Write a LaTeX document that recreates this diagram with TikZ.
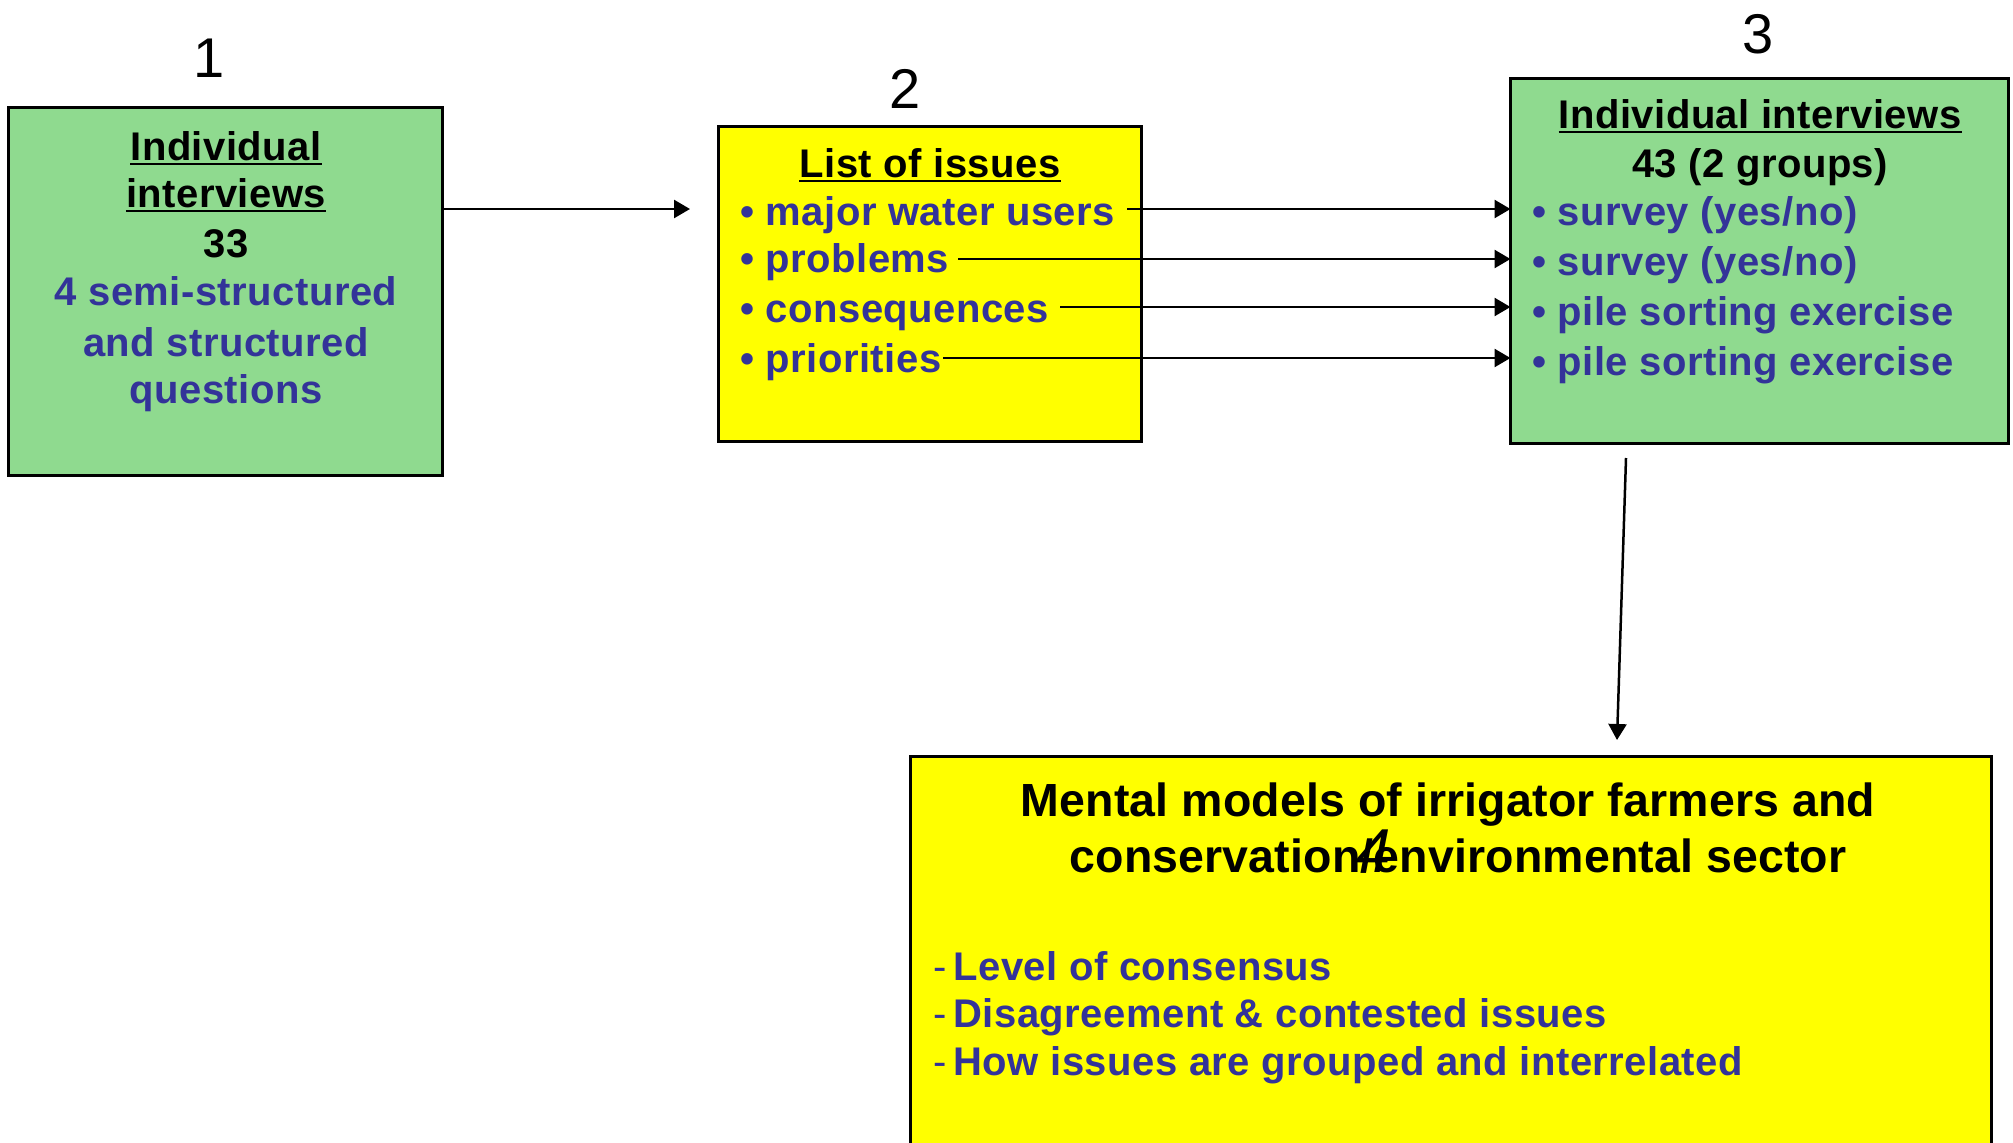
\documentclass[tikz,border=0pt]{standalone}
\usepackage{fontspec}
\setmainfont{Liberation Sans}
\newfontfamily\spaced{Liberation Sans}[LetterSpace=1.2]
\newfontfamily\spacedt{Liberation Sans}[LetterSpace=0.3]
\usetikzlibrary{arrows.meta}
\definecolor{boxgreen}{RGB}{143,218,143}
\definecolor{boxyellow}{RGB}{255,255,0}
\definecolor{itemblue}{RGB}{51,51,153}
\begin{document}
\begin{tikzpicture}[x=1pt,y=-1pt,
  box/.style={draw=black, line width=3pt, inner sep=0pt, outer sep=0pt, rectangle},
  numlbl/.style={inner sep=0pt, anchor=base, font=\fontsize{56}{60}\selectfont},
  hd/.style={inner sep=0pt, anchor=base, text=black, font=\spaced\fontsize{40}{48}\selectfont\bfseries},
  ctr/.style={inner sep=0pt, anchor=base, text=itemblue, font=\spaced\fontsize{40}{48}\selectfont\bfseries},
  itm/.style={inner sep=0pt, anchor=base west, text=itemblue, font=\spaced\fontsize{40}{48}\selectfont\bfseries},
  ttl/.style={inner sep=0pt, anchor=base, text=black, font=\spacedt\fontsize{46.5}{52}\selectfont\bfseries},
  arr/.style={draw=black, line width=2.5pt, -{Triangle[length=16pt,width=18pt]}},
  uline/.style={line width=2.7pt}
]
\clip (0,0) rectangle (2013,1143);
\fill[white] (0,0) rectangle (2013,1143);

% boxes
\node[box, fill=boxgreen, minimum width=434pt, minimum height=368pt] (b1) at (225.5,291.5) {};
\node[box, fill=boxyellow, minimum width=423pt, minimum height=315pt] (b2) at (930,284) {};
\node[box, fill=boxgreen, minimum width=498pt, minimum height=365pt] (b3) at (1759.5,261) {};
\node[box, fill=boxyellow, minimum width=1081pt, minimum height=420pt] (b4) at (1451,966) {};

% number labels
\node[numlbl] (n1) at (209,77) {1};
\node[numlbl] (n2) at (905,108) {2};
\node[numlbl] (n3) at (1758,53) {3};

% box 1 text
\node[hd] (t1a) at (226,160) {Individual};
\node[hd] (t1b) at (226,207) {interviews};
\draw[uline] ([yshift=-4pt]t1a.base west) -- ([yshift=-4pt]t1a.base east);
\draw[uline] ([yshift=-4pt]t1b.base west) -- ([yshift=-4pt]t1b.base east);
\node[hd] (t1c) at (226,257) {33};
\node[ctr] (t1d) at (226,305) {4 semi-structured};
\node[ctr] (t1e) at (226,356) {and structured};
\node[ctr] (t1f) at (226,403) {questions};

% box 2 text
\node[hd] (t2a) at (930,177) {List of issues};
\draw[uline] ([yshift=-4pt]t2a.base west) -- ([yshift=-4pt]t2a.base east);
\node[itm] (i21) at (740,225) {• major water users};
\node[itm] (i22) at (740,272) {• problems};
\node[itm] (i23) at (740,322) {• consequences};
\node[itm] (i24) at (740,372) {• priorities};

% box 3 text
\node[hd] (t3a) at (1760,128) {Individual interviews};
\draw[uline] ([yshift=-4pt]t3a.base west) -- ([yshift=-4pt]t3a.base east);
\node[hd] (t3b) at (1760,177) {43 (2 groups)};
\node[itm] (i31) at (1532,225) {• survey (yes/no)};
\node[itm] (i32) at (1532,275) {• survey (yes/no)};
\node[itm] (i33) at (1532,325) {• pile sorting exercise};
\node[itm] (i34) at (1532,375) {• pile sorting exercise};

% box 4 text
\node[ttl] (t4a) at (1448,816) {Mental models of irrigator farmers and};
\node[ttl] (t4b) at (1458,872) {conservation/environmental sector};
\node[inner sep=0pt, anchor=base, font=\fontsize{62}{70}\selectfont\itshape] (n4) at (1374,872) {4};
\node[itm] (i41) at (933,980) {{\mdseries -}\hspace{7pt}Level of consensus};
\node[itm] (i42) at (933,1027) {{\mdseries -}\hspace{7pt}Disagreement \& contested issues};
\node[itm] (i43) at (933,1075) {{\mdseries -}\hspace{7pt}How issues are grouped and interrelated};

% connectors
\coordinate (e12) at (690,209);
\draw[arr] (b1.east |- e12) -- (e12);
\coordinate (s1) at (1127,209);
\coordinate (s2) at (958,259);
\coordinate (s3) at (1060,307);
\coordinate (s4) at (943,358);
\draw[arr] (s1) -- (s1 -| b3.west);
\draw[arr] (s2) -- (s2 -| b3.west);
\draw[arr] (s3) -- (s3 -| b3.west);
\draw[arr] (s4) -- (s4 -| b3.west);
\coordinate (s34) at (1626,458);
\coordinate (e34) at (1617,740);
\draw[arr] (s34) -- (e34);
\end{tikzpicture}
\end{document}
